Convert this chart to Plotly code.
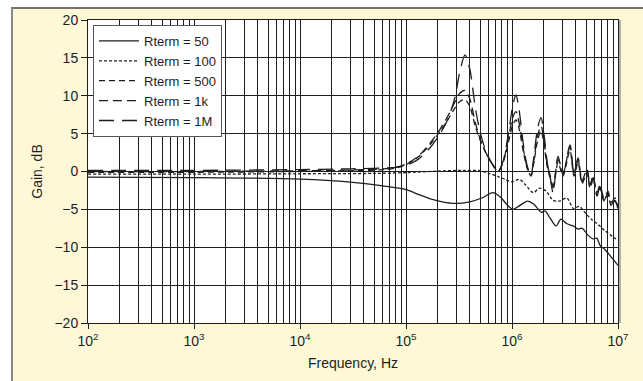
import plotly.graph_objects as go

# ---------------- data ----------------
SERIES_NAMES = ["Rterm = 50", "Rterm = 100", "Rterm = 500", "Rterm = 1k", "Rterm = 1M"]

# Rterm = 50 (solid)
F_50 = [100, 1e3, 1e4, 3e4, 6e4, 1e5, 1.35e5, 1.7e5, 2.2e5, 2.9e5, 4e5, 5.2e5, 6.6e5,
        7.8e5, 9e5, 1.02e6, 1.15e6, 1.4e6, 1.6e6, 1.9e6, 2.05e6, 2.3e6, 2.6e6, 2.9e6,
        3.3e6, 3.8e6, 4.2e6, 4.6e6, 5.2e6, 5.8e6, 6.3e6, 6.8e6, 7.4e6, 8.2e6, 9.0e6, 1e7]
G_50 = [-0.75, -0.8, -1.0, -1.4, -1.9, -2.4, -3.1, -3.6, -4.0, -4.2, -4.0, -3.5, -2.8,
        -3.4, -4.4, -5.0, -4.6, -3.9, -4.3, -5.4, -5.2, -6.2, -7.2, -6.3,
        -6.9, -7.2, -7.6, -7.5, -8.4, -8.9, -8.8, -9.8, -10.2, -10.9, -11.6, -12.4]

# Rterm = 100 (short dashes)
F_100 = [100, 1e3, 1e4, 5e4, 1e5, 2e5, 3.5e5, 5e5, 6.2e5, 7.5e5, 8.8e5, 1.0e6, 1.18e6,
         1.35e6, 1.58e6, 1.82e6, 2.1e6, 2.44e6, 2.8e6, 3.3e6, 3.8e6, 4.3e6, 5.0e6,
         5.6e6, 6.5e6, 7.5e6, 8.7e6, 1e7]
G_100 = [-0.35, -0.35, -0.3, -0.25, -0.15, 0.05, 0.15, 0.1, -0.3, -0.7, -1.1, -1.35, -1.05,
         -1.8, -2.8, -2.2, -2.6, -3.8, -3.9, -3.5, -4.9, -4.6, -5.6,
         -6.3, -7.0, -7.8, -8.5, -9.1]

# Rterm = 500 / 1k / 1M share one frequency list
F_RES = [100, 1e3, 1e4, 3e4, 6e4, 8e4, 1e5, 1.3e5, 1.7e5, 2.1e5, 2.5e5, 2.9e5, 3.2e5,
         3.6e5, 4.0e5, 4.5e5, 5.0e5, 5.7e5, 6.5e5, 7.4e5, 8.3e5, 9.3e5, 1.02e6, 1.09e6,
         1.17e6, 1.28e6, 1.4e6, 1.51e6, 1.62e6, 1.75e6, 1.88e6, 2.0e6, 2.15e6, 2.3e6,
         2.44e6, 2.72e6, 3.03e6, 3.52e6, 3.85e6, 4.2e6, 4.58e6, 5.1e6, 5.45e6, 5.81e6,
         6.34e6, 6.76e6, 7.38e6, 8.05e6, 8.6e6, 9.37e6, 1e7]
G_500 = [-0.1, -0.1, 0.0, 0.1, 0.25, 0.45, 0.9, 1.9, 3.6, 5.3, 6.9, 8.4, 9.2,
         9.5, 8.6, 6.0, 4.2, 2.4, 1.0, 0.0, 1.3, 4.0, 6.2, 6.8,
         5.6, 2.6, 0.3, -0.5, 1.5, 4.2, 5.4, 3.6, 0.6, -1.0,
         -2.4, 1.2, -0.6, 2.8, -0.6, 1.2, -1.6, -0.2, -2.2, -1.0,
         -3.2, -2.2, -3.9, -3.0, -4.5, -3.9, -5.0]
G_1K = [0.0, 0.0, 0.1, 0.2, 0.35, 0.55, 1.0, 2.0, 3.8, 5.6, 7.4, 9.2, 10.3,
        10.7, 9.6, 6.5, 4.3, 2.4, 1.0, 0.0, 1.4, 4.6, 7.2, 7.9,
        6.4, 3.0, 0.4, -0.6, 1.8, 4.8, 6.0, 4.2, 0.9, -0.6,
        -2.0, 1.6, -0.2, 3.3, -0.2, 1.8, -1.2, 0.3, -1.8, -0.5,
        -2.8, -1.8, -3.5, -2.6, -4.1, -3.5, -4.6]
G_1M = [0.15, 0.15, 0.25, 0.35, 0.45, 0.55, 0.8, 1.6, 3.2, 5.0, 7.0, 9.8, 13.0,
        15.4, 13.5, 8.5, 5.2, 2.6, 1.0, 0.0, 1.5, 5.2, 8.8, 10.1,
        8.0, 3.6, 0.6, -0.4, 2.4, 5.8, 7.1, 5.0, 1.2, -0.8,
        -2.8, 2.0, -0.4, 3.5, -0.4, 1.6, -1.4, 0.2, -2.2, -0.8,
        -3.2, -2.0, -3.8, -2.9, -4.4, -3.8, -5.0]

X_TICKS = [1e2, 1e3, 1e4, 1e5, 1e6, 1e7]
X_TICKTEXT = ["10<sup>2</sup>", "10<sup>3</sup>", "10<sup>4</sup>", "10<sup>5</sup>",
              "10<sup>6</sup>", "10<sup>7</sup>"]
Y_TICKS = [-20, -15, -10, -5, 0, 5, 10, 15, 20]

# ---------------- styling ----------------
FONT = "Liberation Sans, Arial, Helvetica, sans-serif"
INK = "#1e1e1e"
PANEL = "#fff8d6"
DASHES = ["solid", "3px,2px", "6px,4px", "9px,5px", "15px,8px"]

series = [(F_50, G_50), (F_100, G_100), (F_RES, G_500), (F_RES, G_1K), (F_RES, G_1M)]

fig = go.Figure()
for name, (fx, gy), dash in zip(SERIES_NAMES, series, DASHES):
    fig.add_trace(go.Scatter(
        x=fx, y=gy, name=name, mode="lines",
        line=dict(color=INK, width=1.3, dash=dash, shape="spline", smoothing=0.8),
    ))

minor_vals = [m * 10 ** e for e in range(2, 7) for m in range(2, 10)]

L, R, T, B = 88, 25, 19, 56
W, H = 643, 381
pw, ph = W - L - R, H - T - B


def px2x(px):
    return (px - L) / pw


def py2y(py):
    return (H - B - py) / ph


fig.update_layout(
    width=W, height=H,
    margin=dict(l=L, r=R, t=T, b=B),
    paper_bgcolor=PANEL,
    plot_bgcolor="white",
    font=dict(family=FONT, size=14, color=INK),
    showlegend=True,
    legend=dict(
        x=px2x(93), y=py2y(24), xanchor="left", yanchor="top",
        bgcolor="white", bordercolor="#555", borderwidth=1,
        font=dict(family=FONT, size=13, color=INK),
        itemwidth=40, tracegroupgap=0,
    ),
    xaxis=dict(
        type="log", range=[2, 7],
        tickvals=X_TICKS, ticktext=X_TICKTEXT,
        ticks="outside", ticklen=5, tickcolor=INK, tickwidth=1,
        showgrid=True, gridcolor=INK, gridwidth=1,
        minor=dict(tickvals=minor_vals, showgrid=True, gridcolor=INK, gridwidth=1, ticks=""),
        showline=True, linecolor=INK, linewidth=1, mirror=True,
        zeroline=False,
        title=dict(text="Frequency, Hz", standoff=10, font=dict(size=14)),
        tickfont=dict(size=14),
    ),
    yaxis=dict(
        range=[-20, 20], tickvals=Y_TICKS,
        ticks="outside", ticklen=6, tickcolor=INK, tickwidth=1,
        showgrid=True, gridcolor=INK, gridwidth=1,
        showline=True, linecolor=INK, linewidth=1, mirror=True,
        zeroline=False,
        title=dict(text="Gain, dB", standoff=8, font=dict(size=14)),
        tickfont=dict(size=14),
    ),
    shapes=[
        dict(type="rect", xref="paper", yref="paper", layer="above",
             x0=px2x(-20), x1=px2x(11), y0=py2y(400), y1=py2y(-20),
             fillcolor="white", line=dict(width=0)),
        dict(type="rect", xref="paper", yref="paper", layer="above",
             x0=px2x(-20), x1=px2x(660), y0=py2y(6.5), y1=py2y(-20),
             fillcolor="white", line=dict(width=0)),
        dict(type="line", xref="paper", yref="paper", layer="above",
             x0=px2x(11), x1=px2x(660), y0=py2y(7), y1=py2y(7),
             line=dict(color="#444", width=1.5)),
        dict(type="line", xref="paper", yref="paper", layer="above",
             x0=px2x(12), x1=px2x(12), y0=py2y(400), y1=py2y(7),
             line=dict(color="#888", width=2)),
        dict(type="line", xref="paper", yref="paper", layer="above",
             x0=px2x(620), x1=px2x(620), y0=py2y(325), y1=py2y(19),
             line=dict(color="#999", width=1.5)),
    ],
)

fig.write_html("out.html")
